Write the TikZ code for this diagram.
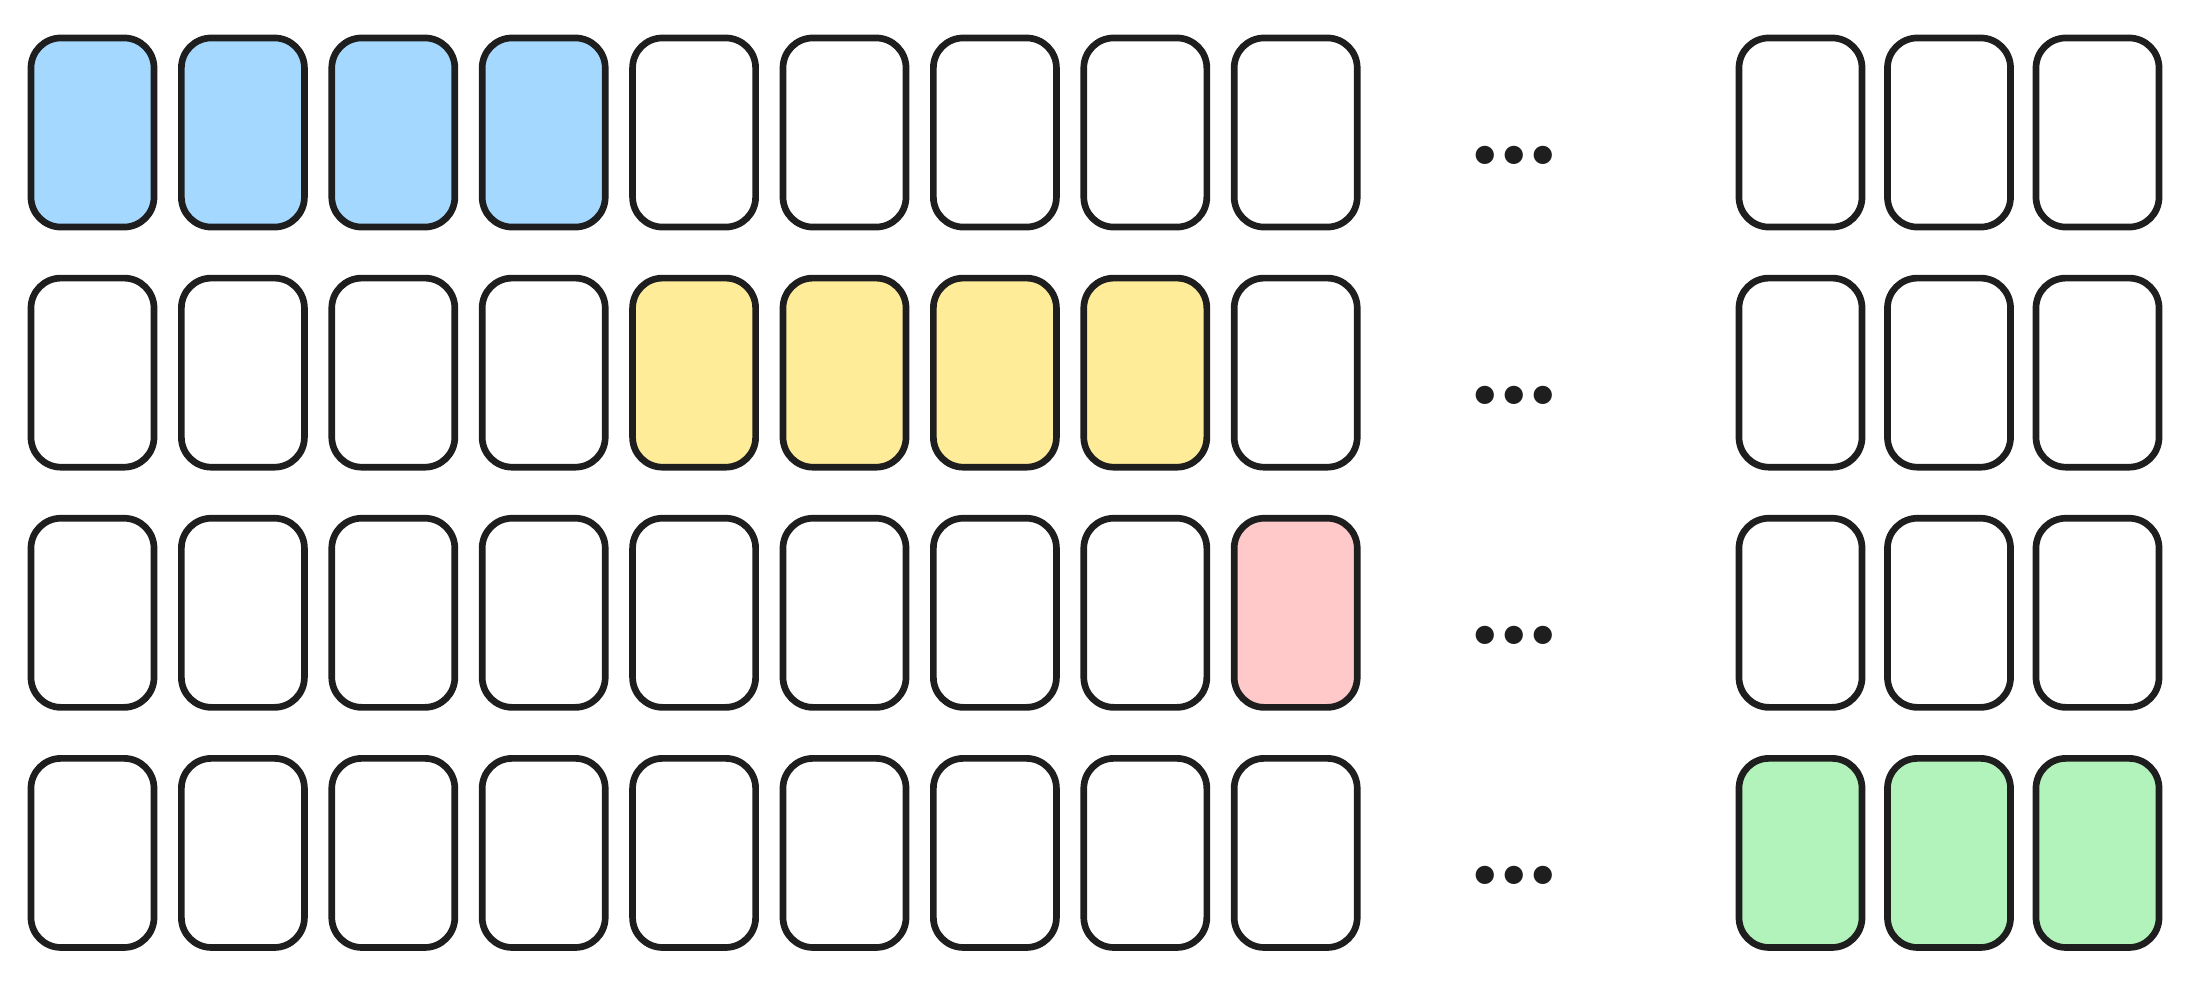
\documentclass[tikz,border=0pt]{standalone}
\usetikzlibrary{positioning}

\definecolor{inkgray}{HTML}{1E1E1E}
\definecolor{slotblue}{HTML}{A5D8FF}
\definecolor{slotyellow}{HTML}{FFEC99}
\definecolor{slotred}{HTML}{FFC9C9}
\definecolor{slotgreen}{HTML}{B2F2BB}
\newcommand{\slotdots}{.\kern-3pt.\kern-3pt.}

\begin{document}
\begin{tikzpicture}[x=0.01cm, y=-0.01cm,
  slotsty/.style={draw=inkgray, fill=white, line width=1.9pt, rounded corners=0.3cm,
                  minimum width=1.23cm, minimum height=1.89cm, inner sep=0pt},
  slotstyBlue/.style={slotsty, fill=slotblue},
  slotstyYellow/.style={slotsty, fill=slotyellow},
  slotstyRed/.style={slotsty, fill=slotred},
  slotstyGreen/.style={slotsty, fill=slotgreen},
  dotsty/.style={text=inkgray, font=\fontsize{36}{42}\selectfont\bfseries, inner sep=0pt, anchor=base}]

\useasboundingbox (0,0) rectangle (2196,981);

% row 1
\begin{scope}
\foreach \c/\sty in {1/slotstyBlue,2/slotstyBlue,3/slotstyBlue,4/slotstyBlue,5/slotsty,6/slotsty,7/slotsty,8/slotsty,9/slotsty}
  \node[\sty] (rowA\c) at ({92.5+150.4*(\c-1)},132.5) {};
\foreach \c in {1,2,3}
  \node[slotsty] (tailA\c) at ({1800.5+148.5*(\c-1)},132.5) {};
\node[dotsty] (dotsA) at (1514,164) {\slotdots};
\end{scope}

% row 2
\begin{scope}[yshift=-2.4cm]
\foreach \c/\sty in {1/slotsty,2/slotsty,3/slotsty,4/slotsty,5/slotstyYellow,6/slotstyYellow,7/slotstyYellow,8/slotstyYellow,9/slotsty}
  \node[\sty] (rowB\c) at ({92.5+150.4*(\c-1)},132.5) {};
\foreach \c in {1,2,3}
  \node[slotsty] (tailB\c) at ({1800.5+148.5*(\c-1)},132.5) {};
\node[dotsty] (dotsB) at (1514,164) {\slotdots};
\end{scope}

% row 3
\begin{scope}[yshift=-4.8cm]
\foreach \c/\sty in {1/slotsty,2/slotsty,3/slotsty,4/slotsty,5/slotsty,6/slotsty,7/slotsty,8/slotsty,9/slotstyRed}
  \node[\sty] (rowC\c) at ({92.5+150.4*(\c-1)},132.5) {};
\foreach \c in {1,2,3}
  \node[slotsty] (tailC\c) at ({1800.5+148.5*(\c-1)},132.5) {};
\node[dotsty] (dotsC) at (1514,164) {\slotdots};
\end{scope}

% row 4
\begin{scope}[yshift=-7.2cm]
\foreach \c/\sty in {1/slotsty,2/slotsty,3/slotsty,4/slotsty,5/slotsty,6/slotsty,7/slotsty,8/slotsty,9/slotsty}
  \node[\sty] (rowD\c) at ({92.5+150.4*(\c-1)},132.5) {};
\foreach \c in {1,2,3}
  \node[slotstyGreen] (tailD\c) at ({1800.5+148.5*(\c-1)},132.5) {};
\node[dotsty] (dotsD) at (1514,164) {\slotdots};
\end{scope}

\end{tikzpicture}
\end{document}
